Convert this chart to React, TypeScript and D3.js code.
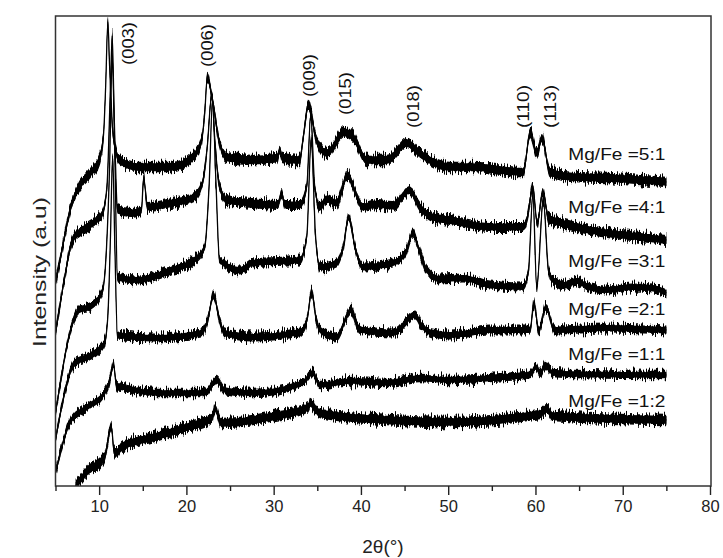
import React, { useRef, useEffect } from 'react';
import * as d3 from 'd3';

// XRD patterns, [2theta (deg), intensity (a.u., stacked offset included)]
const mgfe51: [number, number][] = [
  [5.0, 203], [5.5, 225], [6.0, 248], [6.8, 280], [7.5, 296], [8.9, 312], [10.0, 326], [10.5, 351],
  [10.75, 400], [11.0, 464], [11.2, 420], [11.55, 356], [11.9, 336], [12.3, 326], [14.4, 319], [18.3, 319],
  [20.6, 328], [21.75, 346], [22.1, 373], [22.4, 409], [23.0, 386], [23.8, 343], [24.6, 329], [27.6, 326],
  [30.4, 328], [30.7, 336], [31.0, 328], [33.0, 326], [33.35, 346], [34.0, 381], [34.9, 346], [36.1, 333],
  [38.1, 354], [39.1, 349], [40.7, 326], [43.0, 326], [45.3, 343], [46.7, 333], [50.2, 319], [52.8, 319],
  [58.6, 314], [59.4, 353], [60.15, 333], [60.75, 348], [61.65, 314], [64.3, 309], [68.2, 308], [75.0, 304],
];
const mgfe41: [number, number][] = [
  [5.0, 153], [6.0, 206], [6.95, 246], [8.1, 256], [9.7, 266], [10.4, 273], [10.9, 300], [11.3, 400],
  [11.5, 450], [11.7, 380], [11.95, 300], [12.1, 276], [13.7, 273], [14.85, 276], [15.1, 308], [15.55, 279],
  [18.3, 283], [20.9, 289], [21.85, 303], [22.4, 340], [22.9, 391], [23.3, 340], [23.8, 300], [24.6, 286],
  [27.6, 283], [30.5, 281], [30.9, 293], [31.3, 281], [33.0, 281], [33.8, 300], [34.25, 371], [34.7, 300],
  [35.3, 279], [36.1, 287], [37.2, 283], [38.5, 311], [39.3, 295], [40.2, 279], [41.9, 282], [43.6, 280],
  [45.6, 296], [46.7, 280], [48.2, 269], [50.2, 266], [54.8, 259], [58.6, 259], [59.0, 265], [59.7, 298],
  [60.2, 263], [60.85, 294], [61.5, 268], [62.0, 266], [64.75, 259], [68.2, 253], [72.0, 249], [75.0, 246],
];
const mgfe31: [number, number][] = [
  [5.0, 73], [5.5, 100], [6.3, 140], [7.75, 176], [8.9, 179], [10.4, 196], [10.85, 239], [11.2, 320],
  [11.5, 430], [11.8, 330], [12.1, 209], [14.4, 206], [18.3, 216], [20.9, 226], [22.1, 239], [22.6, 300],
  [23.0, 386], [23.4, 300], [23.8, 226], [26.1, 216], [27.6, 223], [33.0, 226], [33.8, 250], [34.3, 346],
  [34.8, 250], [35.3, 219], [37.2, 223], [38.0, 240], [38.6, 269], [39.3, 240], [40.2, 219], [43.65, 223],
  [45.2, 235], [45.95, 253], [46.7, 235], [47.55, 216], [49.0, 207], [51.7, 208], [54.8, 201], [58.6, 199],
  [59.2, 215], [59.7, 291], [60.15, 199], [60.9, 286], [61.5, 215], [62.0, 206], [63.5, 201], [64.75, 205],
  [66.0, 199], [68.2, 196], [71.0, 199], [73.5, 198], [75.0, 193],
];
const mgfe21: [number, number][] = [
  [5.0, 46], [5.5, 70], [7.2, 123], [8.7, 129], [10.6, 143], [11.0, 170], [11.3, 250], [11.55, 330],
  [11.8, 240], [12.1, 151], [16.35, 148], [21.7, 153], [22.45, 166], [23.1, 191], [23.8, 166], [24.4, 153],
  [27.6, 149], [33.0, 154], [33.8, 165], [34.35, 194], [34.9, 165], [35.3, 156], [37.2, 149], [38.9, 176],
  [39.6, 160], [40.2, 156], [43.65, 153], [46.2, 171], [47.0, 160], [48.2, 153], [50.2, 151], [54.8, 156],
  [59.4, 156], [59.8, 183], [60.4, 156], [61.2, 179], [62.2, 156], [68.2, 158], [75.0, 156],
];
const mgfe11: [number, number][] = [
  [5.0, 13], [6.8, 66], [8.7, 79], [10.6, 93], [11.2, 105], [11.65, 121], [12.0, 100], [12.6, 99],
  [16.35, 93], [22.1, 93], [23.45, 106], [24.4, 96], [27.6, 93], [33.3, 103], [34.45, 113], [35.3, 101],
  [39.0, 105], [43.0, 103], [46.7, 108], [50.2, 106], [54.8, 108], [59.4, 112], [60.05, 119], [60.5, 113],
  [61.2, 121], [62.0, 113], [64.3, 112], [75.0, 111],
];
const mgfe12: [number, number][] = [
  [7.3, 0], [8.7, 15], [10.6, 29], [11.4, 59], [11.7, 36], [12.0, 33], [12.6, 39], [16.35, 49],
  [20.1, 59], [23.0, 69], [23.25, 78], [24.0, 63], [29.5, 69], [34.0, 79], [34.15, 83], [35.3, 73],
  [43.0, 66], [50.2, 64], [60.5, 72], [61.3, 77], [62.0, 70], [75.0, 66],
];

const seriesData = [mgfe51, mgfe41, mgfe31, mgfe21, mgfe11, mgfe12];
const seriesNames = ['Mg/Fe =5:1', 'Mg/Fe =4:1', 'Mg/Fe =3:1', 'Mg/Fe =2:1', 'Mg/Fe =1:1', 'Mg/Fe =1:2'];
const noiseAmp = [3.8, 3.5, 3, 3, 2.8, 3.8];
const labelLevel = [326, 273, 219, 171, 126, 79];

const peakNames = ['(003)', '(006)', '(009)', '(015)', '(018)', '(110)', '(113)'];
const peakPos = [14.0, 23.05, 34.75, 38.9, 46.6, 59.3, 62.4];
const peakLabelBase = [421, 419, 389, 371, 358, 358, 358];

const majorTicks = [10, 20, 30, 40, 50, 60, 70, 80];
const minorTicks = [5, 15, 25, 35, 45, 55, 65, 75];

const W = 723, H = 558;
const M = { left: 55.5, right: 711, top: 16, bottom: 486 };
const FONT = 'Liberation Sans, Arial, Helvetica, sans-serif';

export default function App() {
  const axisRef = useRef<SVGGElement>(null);

  const x = d3.scaleLinear().domain([5, 80]).range([M.left, M.right - 1]);
  const y = d3.scaleLinear().domain([0, 470]).range([M.bottom, M.top]);

  useEffect(() => {
    const g = d3.select(axisRef.current);
    g.selectAll('*').remove();
    g.append('g')
      .call(d3.axisBottom(x).tickValues(minorTicks).tickSize(5).tickFormat(() => ''))
      .call(s => s.select('.domain').remove())
      .call(s => s.selectAll('line').attr('stroke', '#222').attr('stroke-width', 1.4));
    g.append('g')
      .call(d3.axisBottom(x).tickValues(majorTicks).tickSize(9).tickSizeOuter(0).tickPadding(5))
      .call(s => s.select('.domain').remove())
      .call(s => s.selectAll('line').attr('stroke', '#222').attr('stroke-width', 1.4))
      .call(s => s.selectAll('text')
        .attr('font-size', 16.5)
        .attr('font-family', FONT)
        .attr('fill', '#222'));
  }, []);

  const area = d3.area<[number, number]>()
    .x(d => x(d[0]))
    .curve(d3.curveMonotoneX);
  const line = d3.line<[number, number]>()
    .x(d => x(d[0]))
    .y(d => y(d[1]))
    .curve(d3.curveMonotoneX);

  const band = (s: [number, number][], w: number) =>
    area.y0(d => y(d[1]) + w).y1(d => y(d[1]) - w)(s) || '';

  return (
    <svg width={W} height={H} style={{ position: 'absolute', left: 0, top: 0, background: '#fff' }}>
      <defs>
        <clipPath id="plot">
          <rect x={M.left} y={M.top} width={M.right - M.left} height={M.bottom - M.top} />
        </clipPath>
        {/* detector noise look: vertical jitter of the trace bands */}
        <filter id="jitter" filterUnits="userSpaceOnUse" x={0} y={0} width={W} height={H}>
          <feTurbulence type="fractalNoise" baseFrequency="0.9 0.05" numOctaves={2} seed={7} result="t" />
          <feColorMatrix in="t" type="matrix"
            values="0 0 0 0 0.5  0 1 0 0 0  0 0 0 0 0  0 0 0 0 1" result="m" />
          <feDisplacementMap in="SourceGraphic" in2="m" scale={13} xChannelSelector="R" yChannelSelector="G" />
        </filter>
      </defs>

      <g clipPath="url(#plot)">
        {seriesData.map((s, i) => (
          <g key={i}>
            <path d={band(s, noiseAmp[i] + 1.5)} fill="#000" filter="url(#jitter)" />
            <path d={band(s, noiseAmp[i])} fill="#000" />
            <path d={line(s) || ''} fill="none" stroke="#000" strokeWidth={1.3} />
          </g>
        ))}
      </g>

      {seriesNames.map((name, i) => (
        <text key={name} x={x(75) - 1} y={y(labelLevel[i])} textAnchor="end"
          fontSize={17} fontFamily={FONT} fill="#111" textLength={97} lengthAdjust="spacingAndGlyphs">
          {name}
        </text>
      ))}

      {peakNames.map((name, i) => (
        <text key={name} transform={`translate(${x(peakPos[i])},${y(peakLabelBase[i])}) rotate(-90)`}
          fontSize={17} fontFamily={FONT} fill="#111" textLength={43} lengthAdjust="spacingAndGlyphs">
          {name}
        </text>
      ))}

      <rect x={M.left} y={M.top} width={M.right - M.left} height={M.bottom - M.top}
        fill="none" stroke="#333" strokeWidth={1.5} />
      <g ref={axisRef} transform={`translate(0,${M.bottom})`} />

      <text x={383} y={553} textAnchor="middle" fontSize={19} fontFamily={FONT} fill="#222">
        2θ(°)
      </text>
      <text transform={`translate(46,272) rotate(-90)`} textAnchor="middle" fontSize={19}
        fontFamily={FONT} fill="#222" textLength={150} lengthAdjust="spacingAndGlyphs">
        Intensity (a.u)
      </text>
    </svg>
  );
}
